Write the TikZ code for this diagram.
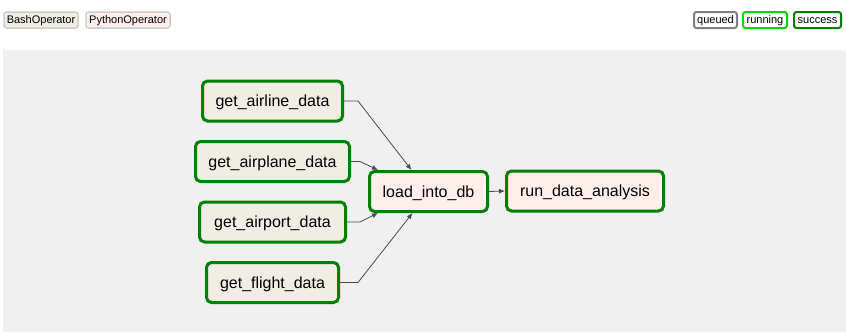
\documentclass[tikz,border=0pt]{standalone}
\usepackage{fontspec}
\setmainfont{Liberation Sans}
\usetikzlibrary{arrows.meta,calc}
\definecolor{bashfill}{HTML}{F0EDE4}
\definecolor{pyfill}{HTML}{FFEFEB}
\definecolor{bggray}{HTML}{F0F0F0}
\definecolor{taskgreen}{HTML}{008000}
\definecolor{edgegray}{HTML}{4A4A4A}
\tikzset{
  task/.style={draw=taskgreen, line width=3pt, rounded corners=5pt, inner sep=0pt,
    font=\fontsize{16}{18}\selectfont, minimum height=40pt, text height=13pt, text depth=2pt},
  bashtask/.style={task, fill=bashfill},
  pytask/.style={task, fill=pyfill},
  legend/.style={rounded corners=2.5pt, inner sep=0pt, minimum height=16pt,
    font=\fontsize{11}{13}\selectfont, text height=8.5pt, text depth=2pt},
  edge/.style={draw=edgegray, line width=0.8pt, -{Latex[length=6pt,width=5pt]}}
}
\begin{document}
\begin{tikzpicture}[x=1pt,y=-1pt]
\useasboundingbox (0,0) rectangle (846,332);
\fill[white] (0,0) rectangle (846,332);
\fill[bggray] (3,50) rectangle (846,332);
% legend
\node[legend, draw=black!20, line width=1.5pt, fill=bashfill, minimum width=74pt] (bash) at (41,20) {BashOperator};
\node[legend, draw=black!20, line width=1.5pt, fill=pyfill, minimum width=84pt] (py) at (128,20) {PythonOperator};
\node[legend, draw=black!50, line width=2pt, fill=white, minimum width=43pt] (queued) at (715.5,20) {queued};
\node[legend, draw=green!85!black, line width=2pt, fill=white, minimum width=44pt] (running) at (765,20) {running};
\node[legend, draw=taskgreen, line width=2pt, fill=white, minimum width=47pt] (success) at (817.5,20) {success};
% tasks
\node[bashtask, minimum width=140pt] (airline) at (272.5,101) {get\_airline\_data};
\node[bashtask, minimum width=154pt] (airplane) at (272.5,161.5) {get\_airplane\_data};
\node[bashtask, minimum width=146pt] (airport) at (272.5,222) {get\_airport\_data};
\node[bashtask, minimum width=132pt] (flight) at (272.5,282.5) {get\_flight\_data};
\node[pytask, minimum width=118pt] (load) at (428.5,191.5) {load\_into\_db};
\node[pytask, minimum width=157pt] (run) at (585,191) {run\_data\_analysis};
% edges
\draw[edge] (airline.east) -- ++(14,0) -- ($(load.north)+(-17,0)$);
\draw[edge] (airplane.east) -- ++(9,0) -- ($(load.north west)+(10,0)$);
\draw[edge] (airport.east) -- ++(13,0) -- ($(load.south west)+(10,0)$);
\draw[edge] (flight.east) -- ++(18,0) -- ($(load.south)+(-16,0)$);
\draw[edge] (load.east) -- (run.west);
\end{tikzpicture}
\end{document}
